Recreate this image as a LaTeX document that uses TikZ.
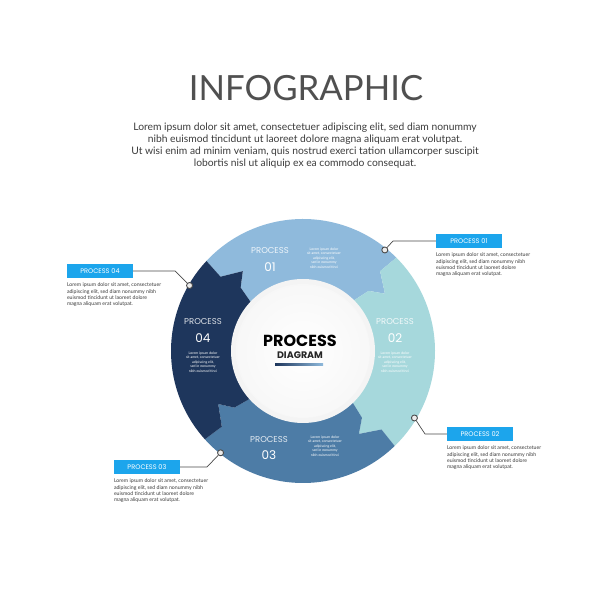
\documentclass[tikz,border=0pt]{standalone}
\usepackage{fontspec}
\setmainfont{Lato}
\newfontfamily\popfont{Poppins}
\usetikzlibrary{positioning}
\definecolor{segone}{HTML}{8FBADC}
\definecolor{segtwo}{HTML}{A6D8DC}
\definecolor{segthree}{HTML}{4D7CA6}
\definecolor{segfour}{HTML}{1E365C}
\definecolor{tagblue}{HTML}{1CA5EC}
\definecolor{inkgray}{HTML}{3C3C3C}
\definecolor{wirecol}{HTML}{4A4A4A}

\begin{document}
\begin{tikzpicture}
    [x={(1pt,0pt)},y={(0pt,1pt)},line join=round,
     tag/.style={fill=tagblue,text=white,minimum width=66pt,minimum height=13.5pt,inner sep=0pt,font=\popfont\fontsize{6.6}{7}\selectfont},
     note/.style={align=left,inner sep=0pt,text=inkgray,font=\fontsize{5.2}{6.2}\selectfont},
     wire/.style={draw=wirecol,line width=0.7pt},
     pin/.style={circle,draw=wirecol,fill=gray!15,line width=0.9pt,minimum size=6pt,inner sep=0pt},
     segname/.style={font=\popfont\fontsize{8.5}{9}\selectfont},
     segnum/.style={font=\popfont\fontsize{12}{12}\selectfont,text=white},
     segnote/.style={align=center,inner sep=0pt,text=white,font=\fontsize{3.5}{4.4}\selectfont}]

    \useasboundingbox (0,0) rectangle (600,600);
    \fill[white] (0,0) rectangle (600,600);

    % heading
    \node[text=inkgray!90,font=\fontsize{34.7}{36}\selectfont] (title) at (306,512) {INFOGRAPHIC};
    \node[align=center,text=inkgray,font=\fontsize{10.3}{12}\selectfont] (intro) at (305,454)
      {Lorem ipsum dolor sit amet, consectetuer adipiscing elit, sed diam nonummy\\
       nibh euismod tincidunt ut laoreet dolore magna aliquam erat volutpat.\\
       Ut wisi enim ad minim veniam, quis nostrud exerci tation ullamcorper suscipit\\
       lobortis nisl ut aliquip ex ea commodo consequat.};

    % ring of four arrows
    \begin{scope}[shift={(303,249)}]
      \foreach \a/\b/\col in {137/45/segone,45/-46/segtwo,-46/-138/segthree,222/137/segfour}
        \fill[\col] (\a:132) arc[start angle=\a,end angle=\b,radius=132]
          -- (\b+1:111) -- (\b-10:100) -- (\b-2.5:89) -- (\b:71)
          arc[start angle=\b,end angle=\a,radius=71]
          -- (\a-2.5:89) -- (\a-10:100) -- (\a+1:111) -- cycle;
      \fill[gray!9] (0,0) circle[radius=72];
      \shade[inner color=white,outer color=gray!6] (0,0) circle[radius=67];
      \node[pin] (d1) at (51:130) {};
      \node[pin] (d2) at (-31:130) {};
      \node[pin] (d3) at (-129:131) {};
      \node[pin] (d4) at (150:131) {};
    \end{scope}

    % centre
    \node[font=\popfont\bfseries\fontsize{16}{16}\selectfont,text=black] (ptitle) at (300,259) {PROCESS};
    \node[font=\popfont\bfseries\fontsize{9.5}{10}\selectfont,text=black!85] (psub) at (300,245) {DIAGRAM};
    \shade[left color=segfour,right color=segone] (275,234) rectangle (323,236.2);

    % texts on the ring
    \node[segname,text=white!85!segone] (n1) at (270,349) {PROCESS};
    \node[segnum] (m1) at (270,333) {01};
    \node[segnote] (s1) at (324,342) {Lorem ipsum dolor\\sit amet, consectetuer\\adipiscing elit,\\sed in nonummy\\nibh euismod tinci};
    \node[segname,text=white!85!segtwo] (n2) at (395,278) {PROCESS};
    \node[segnum] (m2) at (395,262) {02};
    \node[segnote] (s2) at (395,238) {Lorem ipsum dolor\\sit amet, consectetuer\\adipiscing elit,\\sed in nonummy\\nibh euismod tinci};
    \node[segname,text=white!85!segthree] (n3) at (269,160) {PROCESS};
    \node[segnum] (m3) at (269,145) {03};
    \node[segnote] (s3) at (325,154) {Lorem ipsum dolor\\sit amet, consectetuer\\adipiscing elit,\\sed in nonummy\\nibh euismod tinci};
    \node[segname,text=white!85!segfour] (n4) at (203,278) {PROCESS};
    \node[segnum] (m4) at (203,262) {04};
    \node[segnote] (s4) at (203,238) {Lorem ipsum dolor\\sit amet, consectetuer\\adipiscing elit,\\sed in nonummy\\nibh euismod tinci};

    % callouts
    \node[tag] (b1) at (469,359) {PROCESS 01};
    \node[tag] (b2) at (480,166) {PROCESS 02};
    \node[tag] (b3) at (147,133) {PROCESS 03};
    \node[tag] (b4) at (100,329) {PROCESS 04};
    \foreach \i in {1,...,4}
      \node[note,below right=5pt and 0pt of b\i.south west] (t\i)
        {Lorem ipsum dolor sit amet, consectetuer\\adipiscing elit, sed diam nonummy nibh\\euismod tincidunt ut laoreet dolore\\magna aliquam erat volutpat.};

    \coordinate (k1) at (393,359);
    \coordinate (k2) at (425,166);
    \coordinate (k3) at (207,133);
    \coordinate (k4) at (175,329);
    \draw[wire] (d1) -- (k1) -- (b1.west);
    \draw[wire] (d2) -- (k2) -- (b2.west);
    \draw[wire] (d3) -- (k3) -- (b3.east);
    \draw[wire] (d4) -- (k4) -- (b4.east);
\end{tikzpicture}
\end{document}
